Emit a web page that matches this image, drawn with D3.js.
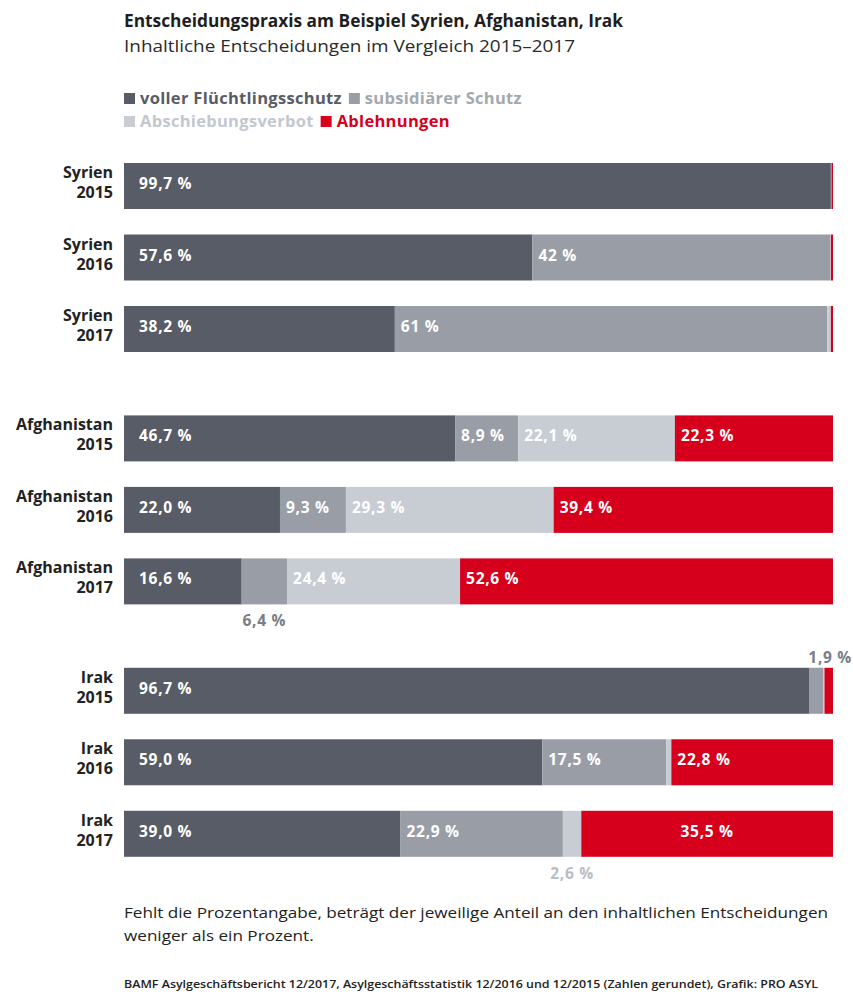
<!DOCTYPE html>
<html>
<head>
<meta charset="utf-8">
<script src="https://cdn.jsdelivr.net/npm/d3@7"></script>
<style>
  html, body { margin: 0; padding: 0; background: #ffffff; }
  svg { display: block; font-family: "Open Sans", "Noto Sans", sans-serif; }
</style>
</head>
<body>
<svg id="chart" width="853" height="999"></svg>
<script>
// ---------- DATA ----------
const countries = ["Syrien", "Afghanistan", "Irak"];
const years = ["2015", "2016", "2017"];
const seriesNames = ["voller Flüchtlingsschutz", "subsidiärer Schutz", "Abschiebungsverbot", "Ablehnungen"];
// one value per row: Syrien 2015..2017, Afghanistan 2015..2017, Irak 2015..2017
const vollerSchutz = [99.7, 57.6, 38.2, 46.7, 22.0, 16.6, 96.7, 59.0, 39.0];
const subsidiaer   = [0.1, 42.0, 61.0, 8.9, 9.3, 6.4, 1.9, 17.5, 22.9];
const abschiebung  = [0.0, 0.1, 0.5, 22.1, 29.3, 24.4, 0.2, 0.7, 2.6];
const ablehnung    = [0.2, 0.3, 0.3, 22.3, 39.4, 52.6, 1.2, 22.8, 35.5];
// printed labels (null = no label shown)
const labelsVoller = ["99,7 %", "57,6 %", "38,2 %", "46,7 %", "22,0 %", "16,6 %", "96,7 %", "59,0 %", "39,0 %"];
const labelsSubsid = [null, "42 %", "61 %", "8,9 %", "9,3 %", "6,4 %", "1,9 %", "17,5 %", "22,9 %"];
const labelsAbsch  = [null, null, null, "22,1 %", "29,3 %", "24,4 %", null, null, "2,6 %"];
const labelsAblehn = [null, null, null, "22,3 %", "39,4 %", "52,6 %", null, "22,8 %", "35,5 %"];

const title = "Entscheidungspraxis am Beispiel Syrien, Afghanistan, Irak";
const subtitle = "Inhaltliche Entscheidungen im Vergleich 2015–2017";
const footnoteLines = ["Fehlt die Prozentangabe, beträgt der jeweilige Anteil an den inhaltlichen Entscheidungen",
                       "weniger als ein Prozent."];
const sourceText = "BAMF Asylgeschäftsbericht 12/2017, Asylgeschäftsstatistik 12/2016 und 12/2015 (Zahlen gerundet), Grafik: PRO ASYL";

// ---------- STYLE ----------
const colors = ["#575c66", "#999ea6", "#c7cdd3", "#d6001c"];
const legendTextColors = ["#575c66", "#a3a8af", "#c2c8ce", "#d6001c"];
// special label placements: key "row-series"
const outsideBelow = {"5-1": "#7a7e86", "8-2": "#b7bec6"};
const outsideAbove = {"6-1": "#7a7e86"};
const centered = {"8-3": true};

const series = [vollerSchutz, subsidiaer, abschiebung, ablehnung];
const seriesLabels = [labelsVoller, labelsSubsid, labelsAbsch, labelsAblehn];

const rows = [];
countries.forEach((c, gi) => years.forEach((y, yi) => {
  const i = gi * years.length + yi;
  rows.push({i, g: gi, country: c, year: y, slot: i + gi * 0.53});
}));

const svg = d3.select("#chart");
const x = d3.scaleLinear().domain([0, 100]).range([124, 833]);
const ySlot = d3.scaleLinear().domain([0, 1]).range([163, 234.5]);
const barH = 46;

// title
svg.append("text").attr("x", 124).attr("y", 27)
  .attr("font-size", 18).attr("font-weight", 700).attr("fill", "#1e1e1e")
  .attr("textLength", 499).attr("lengthAdjust", "spacingAndGlyphs")
  .text(title);
svg.append("text").attr("x", 124).attr("y", 52)
  .attr("font-size", 17).attr("fill", "#2a2a2a")
  .attr("textLength", 451).attr("lengthAdjust", "spacingAndGlyphs")
  .text(subtitle);

// legend (flow layout)
const legendRows = [[0, 1], [2, 3]];
legendRows.forEach((items, r) => {
  let cx = 124;
  const base = 104 + r * 23;
  items.forEach(k => {
    svg.append("rect").attr("x", cx).attr("y", base - 11).attr("width", 11).attr("height", 11)
      .attr("fill", colors[k]);
    const t = svg.append("text").attr("x", cx + 16).attr("y", base)
      .attr("font-size", 16.5).attr("font-weight", 700).attr("letter-spacing", 0.3)
      .attr("fill", legendTextColors[k])
      .text(seriesNames[k]);
    cx = cx + 16 + t.node().getComputedTextLength() + 7;
  });
});

// bars
const stack = rows.map(r => {
  let acc = 0;
  return series.map((s, k) => {
    const seg = {row: r, k, x0: acc, x1: acc + s[r.i], v: s[r.i], label: seriesLabels[k][r.i]};
    acc += s[r.i];
    return seg;
  });
});

const rowG = svg.selectAll("g.row").data(rows).join("g").attr("class", "row")
  .attr("transform", d => `translate(0,${ySlot(d.slot)})`);

rowG.selectAll("rect").data((d, i) => stack[i]).join("rect")
  .attr("x", d => x(d.x0))
  .attr("y", 0)
  .attr("width", d => Math.max(0, x(d.x1) - x(d.x0)))
  .attr("height", barH)
  .attr("fill", d => colors[d.k]);

// category labels
rowG.append("text").attr("x", 113).attr("y", 15).attr("text-anchor", "end")
  .attr("font-size", 16).attr("font-weight", 700).attr("fill", "#222")
  .text(d => d.country);
rowG.append("text").attr("x", 113).attr("y", 35).attr("text-anchor", "end")
  .attr("font-size", 16).attr("font-weight", 700).attr("fill", "#222")
  .text(d => d.year);

// value labels
rowG.selectAll("text.val").data((d, i) => stack[i].filter(s => s.label)).join("text")
  .attr("class", "val")
  .attr("font-size", 15.5).attr("font-weight", 700).attr("letter-spacing", 0.7)
  .each(function(d) {
    const key = d.row.i + "-" + d.k;
    const t = d3.select(this);
    const mid = (x(d.x0) + x(d.x1)) / 2;
    if (outsideBelow[key]) {
      t.attr("x", mid).attr("y", barH + 22).attr("text-anchor", "middle").attr("fill", outsideBelow[key]);
    } else if (outsideAbove[key]) {
      t.attr("x", 852).attr("y", -5).attr("text-anchor", "end").attr("fill", outsideAbove[key]);
    } else if (centered[key]) {
      t.attr("x", mid).attr("y", barH / 2 + 3).attr("text-anchor", "middle").attr("fill", "#fff");
    } else {
      t.attr("x", x(d.x0) + (d.k === 0 ? 15 : 6)).attr("y", barH / 2 + 3).attr("fill", "#fff");
    }
  })
  .text(d => d.label);

// footnote (both lines share the same horizontal compression)
const fn = footnoteLines.map((line, i) => svg.append("text").attr("x", 124).attr("y", 918 + i * 23)
    .attr("font-size", 15).attr("fill", "#222").text(line));
const factor = 704 / fn[0].node().getComputedTextLength();
fn.forEach(t => t.attr("textLength", t.node().getComputedTextLength() * factor)
  .attr("lengthAdjust", "spacingAndGlyphs"));

svg.append("text").attr("x", 124).attr("y", 988)
  .attr("font-size", 10).attr("font-weight", 600).attr("fill", "#222")
  .attr("textLength", 694).attr("lengthAdjust", "spacingAndGlyphs")
  .text(sourceText);
</script>
</body>
</html>
